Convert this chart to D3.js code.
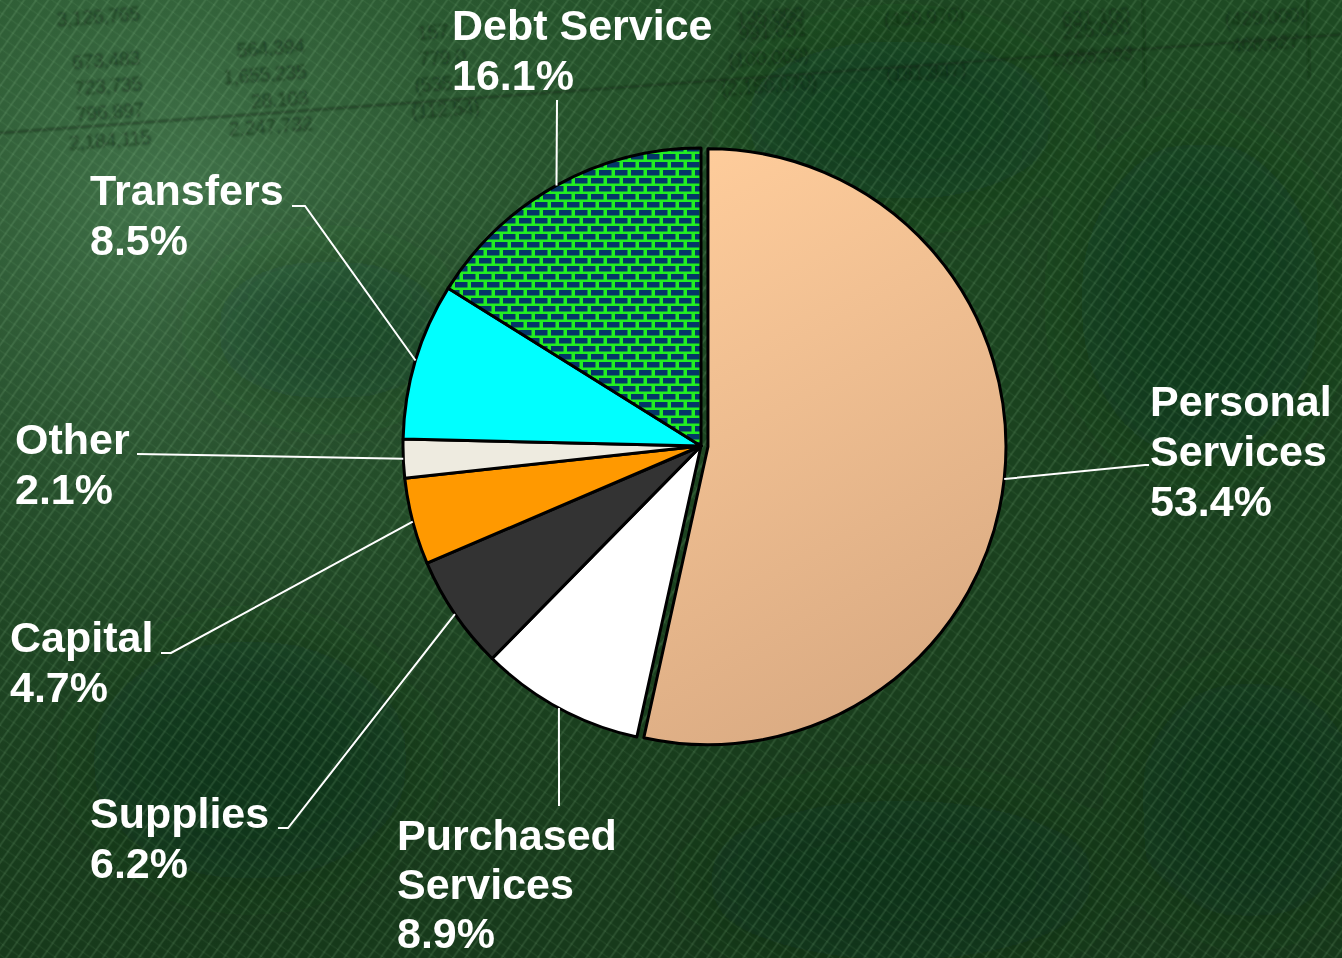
<!DOCTYPE html>
<html>
<head>
<meta charset="utf-8">
<script src="https://cdn.jsdelivr.net/npm/d3@7"></script>
<style>
  html, body { margin: 0; padding: 0; background: #1d4721; }
  svg { display: block; }
  text { font-family: "Liberation Sans", Arial, sans-serif; }
</style>
</head>
<body>
<svg id="chart" width="1342" height="958"></svg>
<script>
// Expenditure shares by category, clockwise from 12 o'clock
const categories = ["Personal Services", "Purchased Services", "Supplies", "Capital", "Other", "Transfers", "Debt Service"];
const shares = [53.4, 8.9, 6.2, 4.7, 2.1, 8.5, 16.1];
const labelLines = [
  ["Personal", "Services"],
  ["Purchased", "Services"],
  ["Supplies"],
  ["Capital"],
  ["Other"],
  ["Transfers"],
  ["Debt Service"]
];

// Slice fills (Debt Service uses a brick pattern)
const fills = ["url(#peachGrad)", "#ffffff", "#333333", "#ff9900", "#eeebe0", "#00ffff", "url(#brick)"];

// Label anchor (left x, first baseline) and leader elbow for each slice
const labelPos = [
  { x: 1150, y: 416, elbow: [[1145, 465], [1149, 465]] },
  { x: 397, y: 850, elbow: [[559, 806]] },
  { x: 90, y: 828, elbow: [[288, 828], [278, 828]] },
  { x: 10, y: 652, elbow: [[171, 653], [161, 653]] },
  { x: 15, y: 454, elbow: [[137, 454]] },
  { x: 90, y: 205, elbow: [[305, 206], [292, 206]] },
  { x: 452, y: 40, elbow: [[557, 100]] }
];
const labelLineHeights = [50, 49, 50, 50, 50, 50, 50];

// Faint ledger figures printed on the backdrop: [right x, offset from rule, text]
const ledgerCells = [
  [148, -118, "3,126,765"],
  [145, -58, "673,483"], [145, -32, "723,735"], [145, -6, "796,897"], [150, 22, "2,184,115"],
  [310, -58, "564,394"], [310, -32, "1,655,235"], [310, -6, "28,103"], [312, 20, "2,247,732"],
  [470, -62, "157,6"], [470, -36, "779,0"], [470, -10, "(535,0"], [480, 16, "(112,54)"],
  [810, -64, "135,000"], [812, -38, "991,051"], [812, -12, "(100,000)"], [818, 16, "(2,150,070)"],
  [970, -46, "(439,970)"], [968, 14, "(181,847)"],
  [1135, -44, "631,100"], [1135, -16, "225,000"], [1136, 10, "1,055,293"],
  [1310, -16, "(429,000)"], [1302, 10, "408,627"]
];

const W = 1342, H = 958;
const cx = 701, cy = 446, R = 298;
const explodeIdx = 0, explodeDist = 7;

const svg = d3.select("#chart");
const defs = svg.append("defs");

// ---- background ----
const bgGrad = defs.append("radialGradient").attr("id", "bgGlow")
  .attr("gradientUnits", "userSpaceOnUse").attr("cx", 170).attr("cy", 200).attr("r", 760);
bgGrad.append("stop").attr("offset", 0).attr("stop-color", "#4f8459").attr("stop-opacity", 0.8);
bgGrad.append("stop").attr("offset", 0.5).attr("stop-color", "#3a6b42").attr("stop-opacity", 0.35);
bgGrad.append("stop").attr("offset", 1).attr("stop-color", "#2a5a30").attr("stop-opacity", 0);

const bgShade = defs.append("linearGradient").attr("id", "bgShade")
  .attr("x1", 0).attr("y1", 0).attr("x2", 0).attr("y2", 1);
bgShade.append("stop").attr("offset", 0).attr("stop-color", "#000").attr("stop-opacity", 0);
bgShade.append("stop").attr("offset", 1).attr("stop-color", "#000").attr("stop-opacity", 0.22);

const hatch = defs.append("pattern").attr("id", "hatch")
  .attr("patternUnits", "userSpaceOnUse").attr("width", 14).attr("height", 14)
  .attr("patternTransform", "rotate(-10)");
hatch.append("path").attr("d", "M0,14 L14,0 M-2,2 L2,-2 M12,16 L16,12")
  .attr("stroke", "#a6dca6").attr("stroke-opacity", 0.15).attr("stroke-width", 1.6);
hatch.append("path").attr("d", "M0,0 L14,14 M-2,12 L2,16 M12,-2 L16,2")
  .attr("stroke", "#a6dca6").attr("stroke-opacity", 0.08).attr("stroke-width", 1.2);

const blur = defs.append("filter").attr("id", "soft").attr("x", "-10%").attr("y", "-10%").attr("width", "120%").attr("height", "120%");
blur.append("feGaussianBlur").attr("stdDeviation", 1.0);
const blotch = defs.append("filter").attr("id", "blotch").attr("x", "-50%").attr("y", "-50%").attr("width", "200%").attr("height", "200%");
blotch.append("feGaussianBlur").attr("stdDeviation", 40);

svg.append("rect").attr("width", W).attr("height", H).attr("fill", "#1e4a23");
svg.append("rect").attr("width", W).attr("height", H).attr("fill", "url(#bgGlow)");

// mottled darker patches
const patches = [[330, 330, 120, 70], [900, 120, 160, 80], [1200, 300, 120, 160], [250, 760, 160, 120], [900, 880, 200, 80], [1250, 800, 110, 120]];
svg.append("g").attr("filter", "url(#blotch)").selectAll("ellipse").data(patches).join("ellipse")
  .attr("cx", d => d[0]).attr("cy", d => d[1]).attr("rx", d => d[2]).attr("ry", d => d[3])
  .attr("fill", "#0f2e12").attr("opacity", 0.4);

svg.append("rect").attr("width", W).attr("height", H).attr("fill", "url(#bgShade)");

// ledger printing: a tilted ruled sheet behind the chart
const ruleY = 133, tilt = -4.2;
const ledger = svg.append("g").attr("filter", "url(#soft)").attr("opacity", 0.55)
  .attr("transform", `rotate(${tilt} 0 ${ruleY})`);
ledger.selectAll("text").data(ledgerCells).join("text")
  .attr("x", d => d[0]).attr("y", d => Math.max(ruleY + d[1], 20 + d[0] * 0.074))
  .attr("text-anchor", "end").attr("font-size", 20).attr("fill", "#0b1e0d")
  .attr("letter-spacing", -0.6)
  .text(d => d[2]);
ledger.append("path").attr("d", `M-20,${ruleY} L1380,${ruleY}`)
  .attr("stroke", "#0b1e0d").attr("stroke-width", 2.2).attr("fill", "none");
svg.append("path").attr("d", "M1143,0 L1145,92 M1308,0 L1309,78")
  .attr("stroke", "#0b1e0d").attr("stroke-opacity", 0.5).attr("stroke-width", 1.8)
  .attr("fill", "none").attr("filter", "url(#soft)");

svg.append("rect").attr("width", W).attr("height", H).attr("fill", "url(#hatch)");

// ---- pie fills ----
const peach = defs.append("linearGradient").attr("id", "peachGrad")
  .attr("gradientUnits", "userSpaceOnUse")
  .attr("x1", 0).attr("y1", -R).attr("x2", 310).attr("y2", 295);
peach.append("stop").attr("offset", 0).attr("stop-color", "#fecc9b");
peach.append("stop").attr("offset", 1).attr("stop-color", "#d5a67f");

const brick = defs.append("pattern").attr("id", "brick")
  .attr("patternUnits", "userSpaceOnUse").attr("width", 16).attr("height", 16)
  .attr("x", 0).attr("y", 2);
brick.append("rect").attr("width", 16).attr("height", 16).attr("fill", "#22ee22");
[[2, 2], [-6, 10], [10, 10]].forEach(([bx, by]) => {
  brick.append("rect").attr("x", bx).attr("y", by).attr("width", 12.5).attr("height", 5.5).attr("fill", "#043668");
});

// ---- pie ----
const pie = d3.pie().sort(null).value(d => d).startAngle(0).endAngle(2 * Math.PI);
const arcs = pie(shares);
const arc = d3.arc().innerRadius(0).outerRadius(R);

const offset = d => {
  if (d.index !== explodeIdx) return [0, 0];
  const a = (d.startAngle + d.endAngle) / 2;
  return [Math.sin(a) * explodeDist, -Math.cos(a) * explodeDist];
};

const pieG = svg.append("g").attr("transform", `translate(${cx},${cy})`);
pieG.selectAll("path.slice").data(arcs).join("path")
  .attr("class", "slice")
  .attr("transform", d => `translate(${offset(d)[0]},${offset(d)[1]})`)
  .attr("d", arc)
  .attr("fill", (d, i) => fills[i])
  .attr("stroke", "#000").attr("stroke-width", 3).attr("stroke-linejoin", "round");

// ---- leader lines ----
const edgePoint = d => {
  const a = (d.startAngle + d.endAngle) / 2;
  const o = offset(d);
  return [cx + Math.sin(a) * R + o[0], cy - Math.cos(a) * R + o[1]];
};
svg.append("g").selectAll("polyline").data(arcs).join("polyline")
  .attr("points", d => [edgePoint(d)].concat(labelPos[d.index].elbow).map(p => p.join(",")).join(" "))
  .attr("fill", "none").attr("stroke", "#ffffff").attr("stroke-width", 2);

// ---- labels ----
const labels = svg.append("g").selectAll("text").data(arcs).join("text")
  .attr("x", d => labelPos[d.index].x).attr("y", d => labelPos[d.index].y)
  .attr("font-size", 43).attr("font-weight", "bold").attr("fill", "#ffffff");
labels.each(function(d) {
  const t = d3.select(this);
  const lines = labelLines[d.index].concat([d3.format(".1f")(shares[d.index]) + "%"]);
  lines.forEach((ln, j) => {
    t.append("tspan").attr("x", labelPos[d.index].x)
      .attr("dy", j === 0 ? 0 : labelLineHeights[d.index]).text(ln);
  });
});
</script>
</body>
</html>
